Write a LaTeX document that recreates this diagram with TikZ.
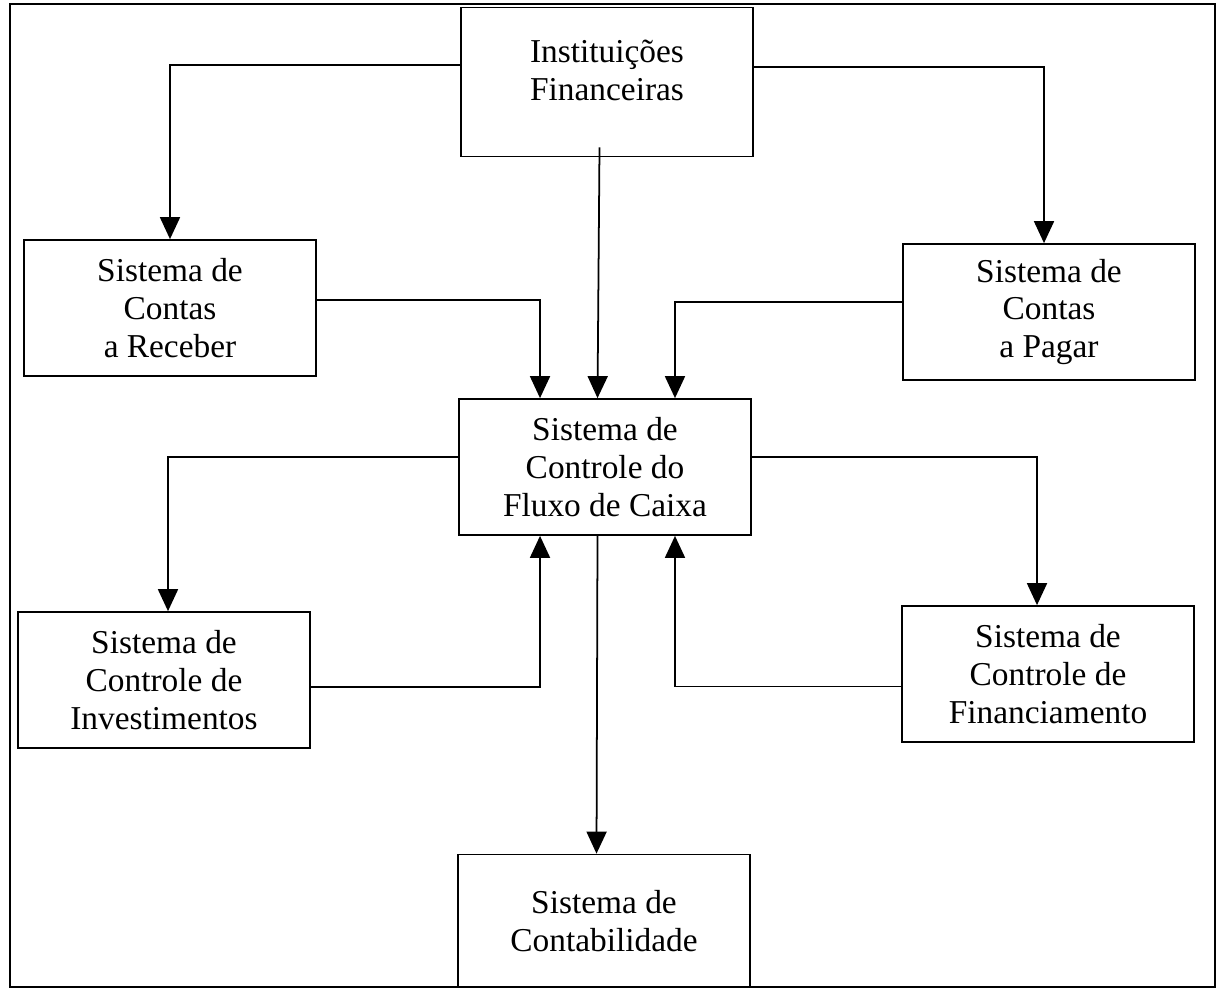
\documentclass[tikz,border=0pt]{standalone}
\usepackage{fontspec}
\setmainfont{Liberation Serif}
\usetikzlibrary{arrows.meta}
\usepackage{xcolor}

\begin{document}
\begin{tikzpicture}[x=0.02cm,y=-0.02cm]

\tikzset{sistema/.style = {shape=rectangle,draw,line width=1pt,align=center,
  minimum width=5.85cm,minimum height=2.72cm,font=\fontsize{19}{21.5}\selectfont}}
\tikzset{edge/.style = {line width=1pt,-{Triangle[length=0.44cm,width=0.4cm]}}}

\useasboundingbox (0,0) rectangle (1219,991);
\draw[line width=1pt] (10,4) rectangle (1215,987);

\node[sistema,minimum height=2.98cm] (inst) at (607,82) {Instituições\\Financeiras\\[-0.28cm]};
\node[sistema] (receber) at (170,308) {Sistema de\\Contas\\a Receber};
\node[sistema] (pagar) at (1049,312) {Sistema de\\Contas\\a Pagar};
\node[sistema] (fluxo) at (605,467) {Sistema de\\Controle do\\Fluxo de Caixa};
\node[sistema] (invest) at (164,680) {Sistema de\\Controle de\\Investimentos};
\node[sistema] (financ) at (1048,674) {Sistema de\\Controle de\\Financiamento};
\node[sistema,minimum height=2.66cm] (contab) at (604,921) {Sistema de\\Contabilidade};

%edges
\draw[edge] ([yshift=0.34cm]inst.west) -| (receber);
\draw[edge] ([yshift=0.3cm]inst.east) -| ([xshift=-0.1cm]pagar.north);
\draw[edge] ([xshift=-0.15cm,yshift=0.2cm]inst.south) -- ([xshift=-0.15cm]fluxo.north);
\draw[edge] ([yshift=0.16cm]receber.east) -| ([xshift=-1.3cm]fluxo.north);
\draw[edge] ([yshift=0.2cm]pagar.west) -| ([xshift=1.4cm]fluxo.north);
\draw[edge] ([yshift=0.2cm]fluxo.west) -| ([xshift=0.08cm]invest.north);
\draw[edge] ([yshift=0.2cm]fluxo.east) -| ([xshift=-0.22cm]financ.north);
\draw[edge] ([yshift=-0.14cm]invest.east) -| ([xshift=-1.3cm]fluxo.south);
\draw[edge] ([yshift=-0.25cm]financ.west) -| ([xshift=1.4cm]fluxo.south);
\draw[edge] ([xshift=-0.15cm]fluxo.south) -- ([xshift=-0.15cm]contab.north);
\end{tikzpicture}
\end{document}
